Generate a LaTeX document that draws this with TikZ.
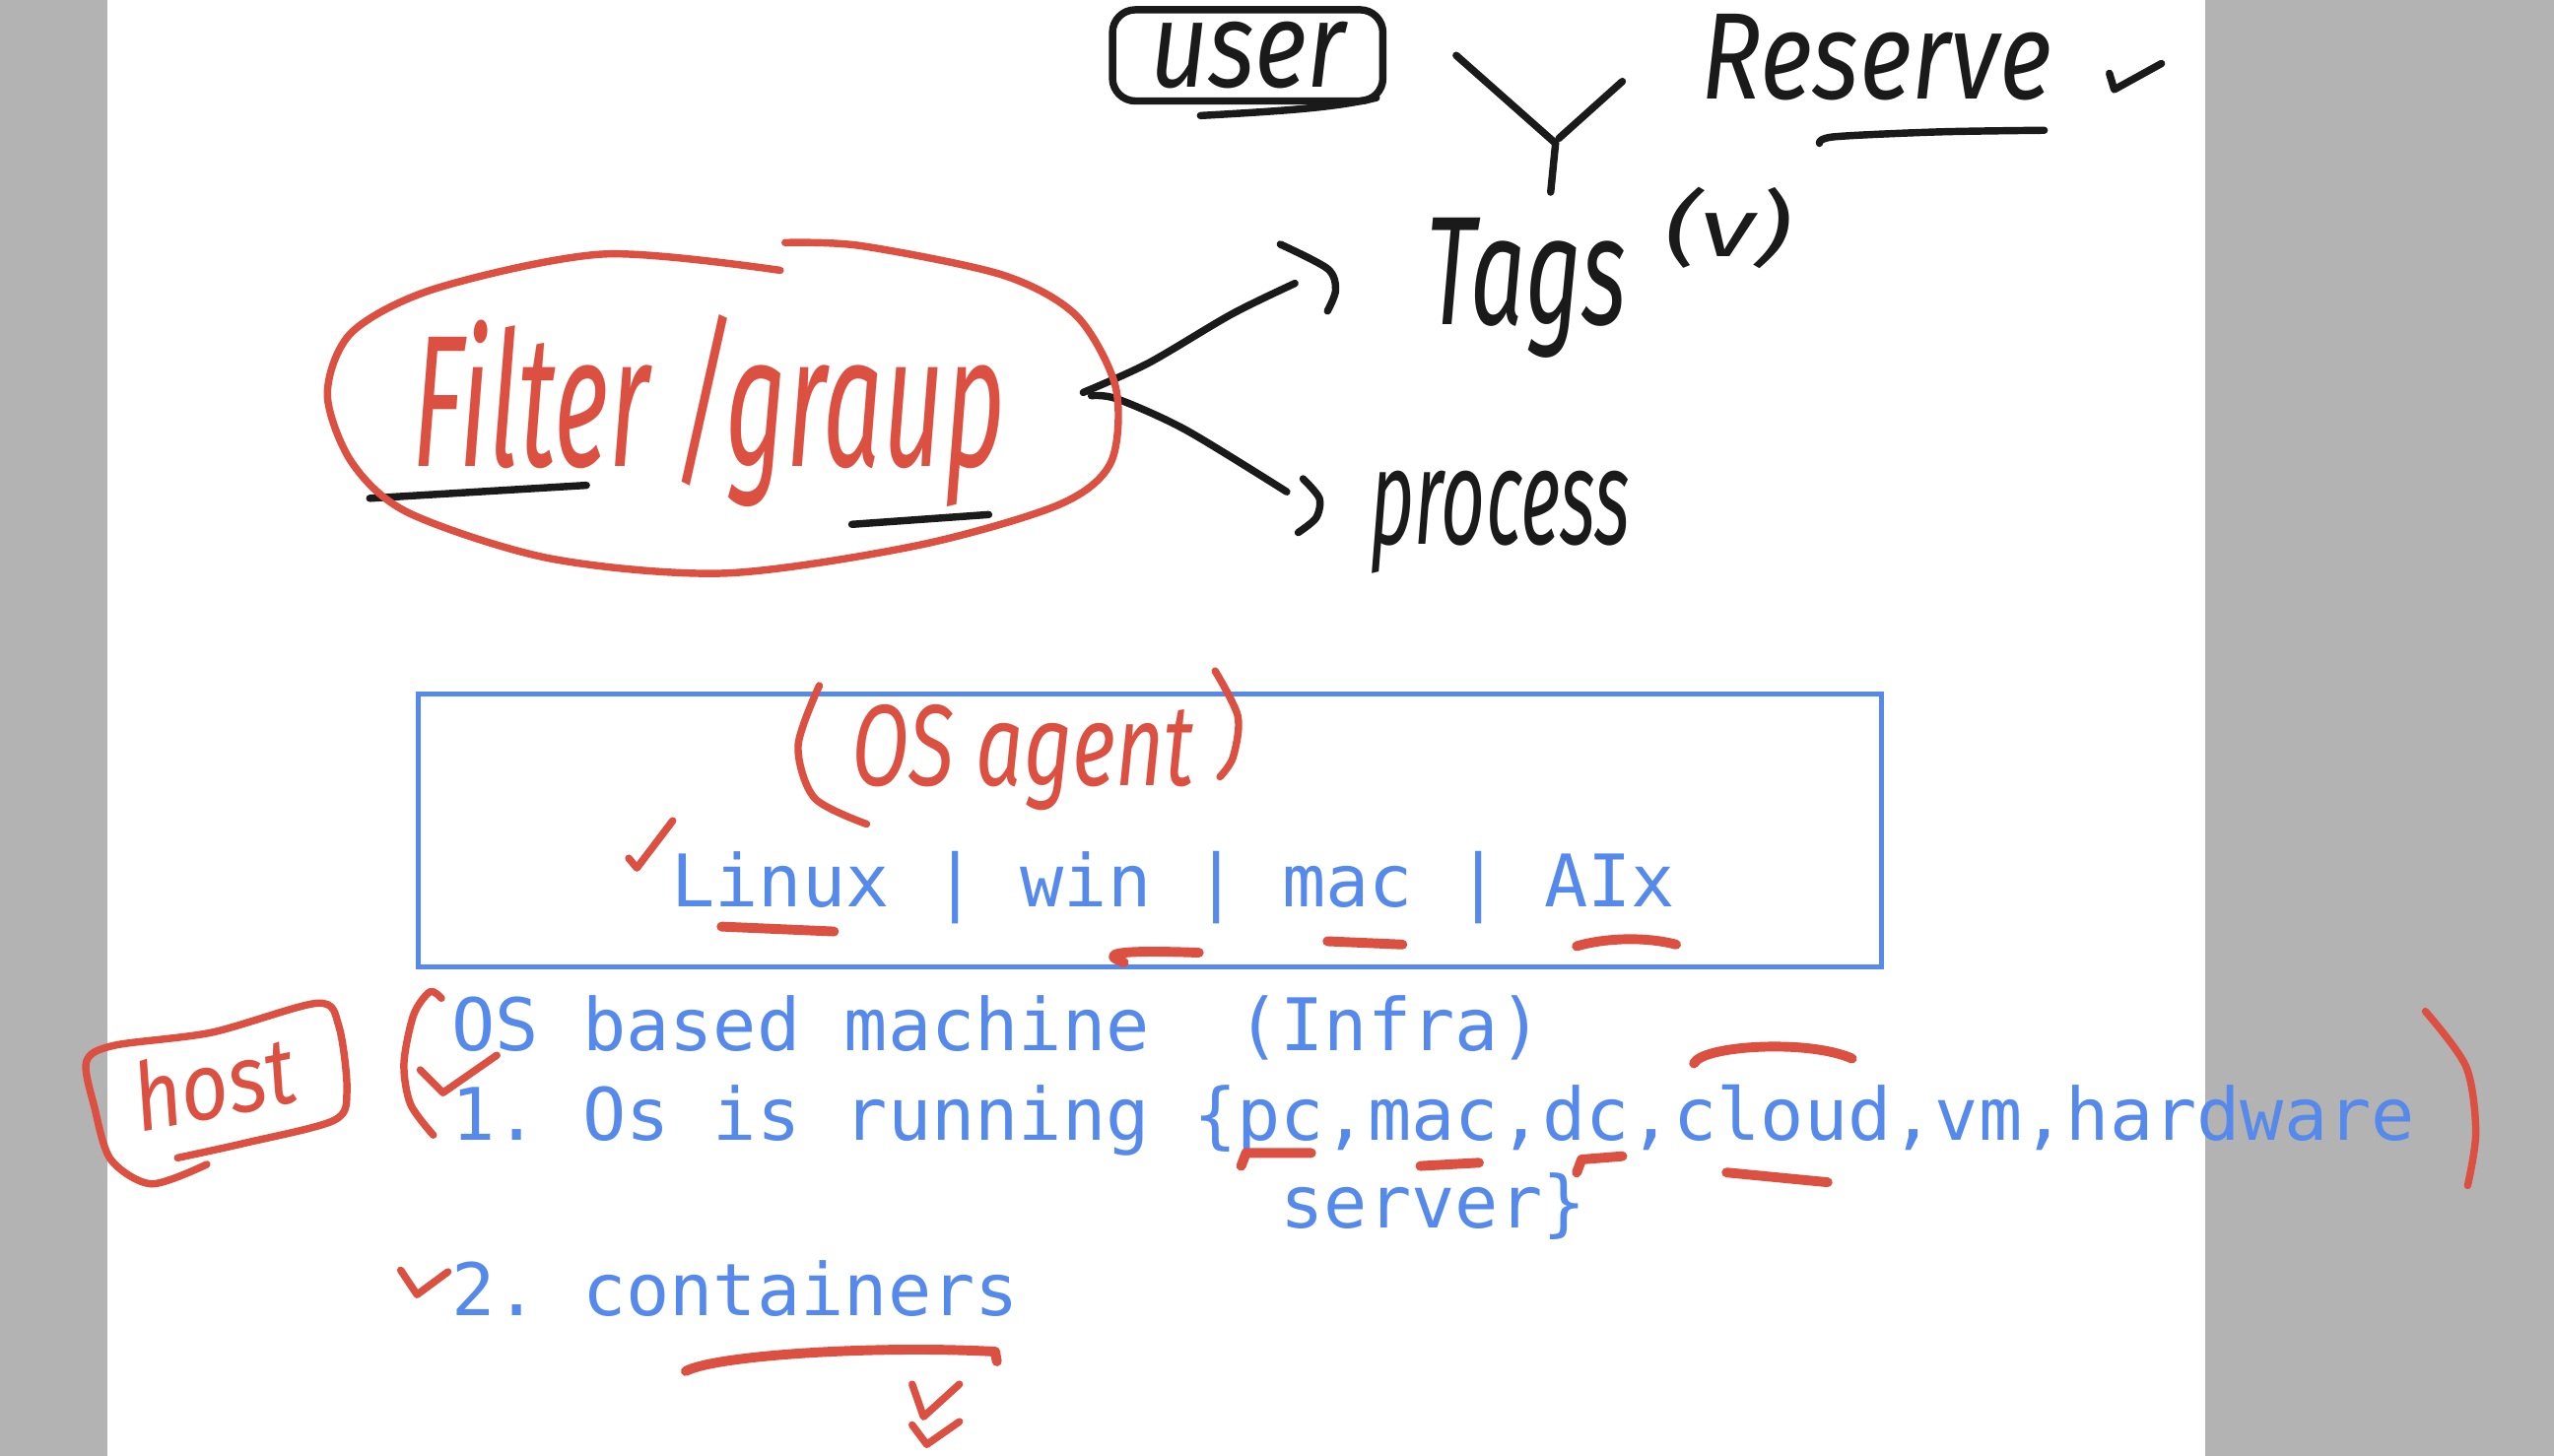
\documentclass[tikz,border=0pt]{standalone}
\usepackage{fontspec}
\newfontfamily\monofont{DejaVu Sans Mono}
\newfontfamily\handfont{Fira Sans}
\definecolor{noteblue}{RGB}{86,137,236}
\definecolor{notered}{RGB}{220,80,66}
\definecolor{noteink}{RGB}{26,26,26}
\definecolor{notegray}{RGB}{179,179,179}
\newcommand{\hand}[3]{\resizebox*{#1pt}{#2pt}{\handfont\itshape #3}}
\frenchspacing
\tikzset{
    typed/.style = {font = \monofont\fontsize{44.5}{53}\selectfont, text = noteblue, inner sep = 0, anchor = base west},
    redpen/.style = {draw = notered, line width = 4.5pt, line cap = round, line join = round},
    redmark/.style = {draw = notered, line width = 6pt, line cap = round, line join = round},
    inkpen/.style = {draw = noteink, line width = 4.5pt, line cap = round, line join = round},
    handred/.style = {text = notered, inner sep = 0},
    handink/.style = {text = noteink, inner sep = 0}
}
\begin{document}
\begin{tikzpicture}[x = 1pt, y = -1pt]
                \useasboundingbox (0,0) rectangle (1568,894);
                \fill[notegray] (0,0) rectangle (66,894);
                \fill[white] (66,0) rectangle (1354,894);
                \fill[notegray] (1354,0) rectangle (1568,894);
                \node[draw = noteblue, line width = 3pt, minimum width = 898pt, minimum height = 168pt, inner sep = 0] (agentbox) at (706,510) {};
                \begin{scope}[every node/.append style = {typed}]
                    \node (platforms) at (412,557) {Linux | win | mac | AIx};
                    \node (infra) at (277,645) {OS based machine\ \ (Infra)};
                    \node (running) at (277,700) {1. Os is running \{pc,mac,dc,cloud,vm,hardware};
                    \node (server) at (786,754) {server\}};
                    \node (containers) at (277,808) {2. containers};
                \end{scope}
                \node[handred] (filter) at (435,252) {\hand{364}{118}{Filter /graup}};
                \node[handred] (agent) at (628,465) {\hand{210}{65}{OS agent}};
                \node[handred, rotate = 11] (host) at (131,665) {\hand{100}{44}{host}};
                \node[handink, inkpen, rounded corners = 14pt, minimum width = 166pt, minimum height = 56pt] (user) at (766,34) {\hand{120}{41}{user}};
                \node[handink] (reserve) at (1152,35) {\hand{215}{53}{Reserve}};
                \node[handink] (tags) at (937,177) {\hand{123}{86}{Tags}};
                \node[handink] (tagsv) at (1061,140) {\hand{78}{50}{(v)}};
                \node[handink] (process) at (921,321) {\hand{160}{63}{process}};
                \coordinate (loopE) at (665,241);
                \coordinate (loopF) at (670,243);
                \coordinate (tagsin) at (795,174);
                \coordinate (procin) at (790,302);
                \coordinate (yjoin) at (955,88);
                \coordinate (ystem) at (952,118);
                \begin{scope}[style = inkpen]
                    \draw plot[smooth] coordinates {(loopE) (705,223) (756,193) (tagsin)};
                    \draw plot[smooth] coordinates {(786,150) (815,165) (820,178) (815,191)};
                    \draw plot[smooth] coordinates {(loopF) (686,245) (728,264) (procin)};
                    \draw plot[smooth] coordinates {(800,294) (810,306) (808,318) (797,327)};
                    \draw (894,34) -- (yjoin);
                    \draw (996,50) -- (957,85);
                    \draw (yjoin) -- (ystem);
                    \draw (737,71) .. controls (790,68) and (820,66) .. (845,60);
                    \draw plot[smooth] coordinates {(1117,88) (1126,84) (1190,81) (1255,80)};
                    \draw (1295,45) -- (1298,55) -- (1327,39);
                    \draw (227,306) -- (360,298);
                    \draw (523,322) -- (607,316);
                \end{scope}
                \begin{scope}[style = redpen]
                    \draw plot[smooth] coordinates {(482,149) (529,151) (616,169) (661,194) (685,238) (682,284) (650,310) (563,335) (445,352) (338,343) (251,315) (216,284) (201,242) (216,204) (268,177) (371,156) (479,166)};
                    \draw plot[smooth] coordinates {(127,715) (93,727) (68,712) (58,680) (53,652) (70,642) (130,634) (195,616) (208,630) (213,670) (205,688) (150,702) (109,711)};
                    \draw plot[smooth] coordinates {(503,421) (490,458) (500,490) (532,506)};
                    \draw plot[smooth] coordinates {(746,412) (760,440) (757,465) (749,477)};
                    \draw (386,527) -- (391,533) -- (413,504);
                    \draw plot[smooth] coordinates {(271,613) (264,609) (254,623) (248,653) (252,678) (266,697)};
                    \draw (258,657) -- (272,671) -- (305,648);
                    \draw plot[smooth] coordinates {(1489,621) (1514,655) (1520,695) (1515,728)};
                    \draw (246,780) -- (256,795) -- (275,781);
                    \draw (560,850) -- (567,870) -- (589,850);
                    \draw (560,875) -- (569,887) -- (589,873);
                \end{scope}
                \begin{scope}[style = redmark]
                    \draw (443,569) -- (512,572);
                    \draw (690,591) .. controls (676,586) and (682,583) .. (736,585);
                    \draw (815,578) -- (861,580);
                    \draw (968,581) .. controls (985,576) and (1010,575) .. (1029,580);
                    \draw (762,716) -- (765,708) -- (805,708);
                    \draw (872,716) -- (908,714);
                    \draw (968,720) -- (971,712) -- (996,710);
                    \draw (1040,653) .. controls (1045,642) and (1110,638) .. (1137,650);
                    \draw (1060,720) -- (1122,726);
                    \draw (421,842) .. controls (440,832) and (540,826) .. (611,830) -- (612,836);
                \end{scope}
            \end{tikzpicture}
\end{document}
